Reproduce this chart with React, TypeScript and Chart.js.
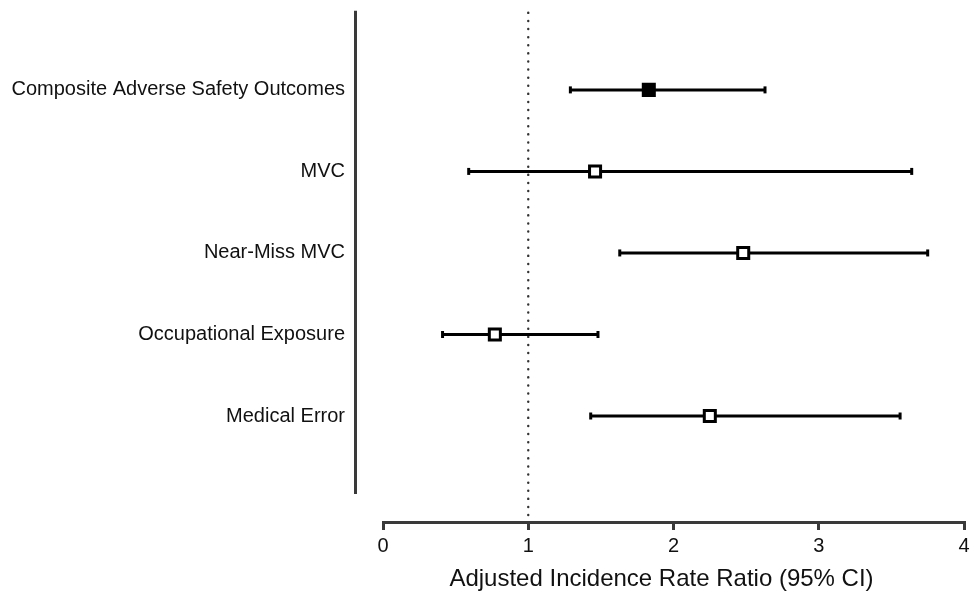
import React, { useEffect, useRef } from 'react';
import { Chart, registerables } from 'chart.js';

Chart.register(...registerables);

const outcomeLabels = [
  'Composite Adverse Safety Outcomes',
  'MVC',
  'Near-Miss MVC',
  'Occupational Exposure',
  'Medical Error',
];
const rowPositions = [1, 2, 3, 4, 5];
const irrValues = [1.83, 1.46, 2.48, 0.77, 2.25];
const lowerCI = [1.29, 0.59, 1.63, 0.41, 1.43];
const upperCI = [2.63, 3.64, 3.75, 1.48, 3.56];
const filledMarker = [true, false, false, false, false];
const xTickValues = [0, 1, 2, 3, 4];
const referenceValue = 1;
const axisTitle = 'Adjusted Incidence Rate Ratio (95% CI)';

const FONT = "'Liberation Sans', Arial, Helvetica, sans-serif";
const AXIS_COLOR = '#3a3a3a';
const TEXT_COLOR = '#111111';

const extrasPlugin = {
  id: 'forestExtras',
  beforeDatasetsDraw(chart: any) {
    const { ctx, chartArea, scales } = chart;
    const xRef = scales.x.getPixelForValue(referenceValue);
    ctx.save();
    // dotted reference line
    ctx.strokeStyle = '#333';
    ctx.lineWidth = 2.4;
    ctx.lineCap = 'round';
    ctx.setLineDash([0.1, 8]);
    ctx.beginPath();
    ctx.moveTo(xRef, chartArea.top + 2);
    ctx.lineTo(xRef, chartArea.bottom - 7);
    ctx.stroke();
    // detached vertical axis line
    ctx.setLineDash([]);
    ctx.lineCap = 'butt';
    ctx.lineWidth = 3;
    ctx.strokeStyle = AXIS_COLOR;
    const vx = chartArea.left - 27.5;
    ctx.beginPath();
    ctx.moveTo(vx, chartArea.top);
    ctx.lineTo(vx, chartArea.bottom - 28);
    ctx.stroke();
    ctx.restore();
  },
  afterDraw(chart: any) {
    const { ctx, chartArea } = chart;
    ctx.save();
    ctx.font = `24px ${FONT}`;
    ctx.fillStyle = TEXT_COLOR;
    ctx.textAlign = 'center';
    ctx.textBaseline = 'middle';
    ctx.fillText(axisTitle, (chartArea.left + chartArea.right) / 2 - 12, chartArea.bottom + 57);
    ctx.restore();
  },
};

export default function App() {
  const canvasRef = useRef<HTMLCanvasElement | null>(null);

  useEffect(() => {
    const canvas = canvasRef.current;
    if (!canvas) return;

    const ciDatasets = rowPositions.map((row, i) => ({
      type: 'line' as const,
      data: [
        { x: lowerCI[i], y: row },
        { x: upperCI[i], y: row },
      ],
      borderColor: '#000',
      borderWidth: 3,
      pointStyle: 'line',
      pointRotation: 90,
      pointRadius: 3.5,
      pointBorderWidth: 3,
      pointBorderColor: '#000',
      pointBackgroundColor: '#000',
      pointHoverRadius: 3.5,
      order: 1,
      clip: false,
    }));

    const markerDataset = {
      type: 'scatter' as const,
      data: irrValues.map((v, i) => ({ x: v, y: rowPositions[i] })),
      pointStyle: 'rect',
      pointRadius: 7.8,
      pointHoverRadius: 7.8,
      borderWidth: 3,
      borderColor: '#000',
      backgroundColor: filledMarker.map((f) => (f ? '#000' : '#fff')),
      order: 0,
      clip: false,
    };

    const chart = new Chart(canvas, {
      type: 'scatter',
      data: { datasets: [...ciDatasets, markerDataset] as any },
      options: {
        animation: false,
        responsive: false,
        devicePixelRatio: 1,
        layout: { padding: { top: 8, right: 13, left: 0, bottom: 0 } },
        plugins: {
          legend: { display: false },
          tooltip: { enabled: false },
        },
        scales: {
          x: {
            type: 'linear',
            min: 0,
            max: 4,
            afterBuildTicks: (scale: any) => {
              scale.ticks = xTickValues.map((v) => ({ value: v }));
            },
            afterFit: (scale: any) => {
              scale.height = 77;
            },
            ticks: {
              font: { family: FONT, size: 20 },
              color: TEXT_COLOR,
              padding: 4,
              maxRotation: 0,
            },
            grid: {
              drawOnChartArea: false,
              drawTicks: true,
              tickLength: 8,
              color: AXIS_COLOR,
              lineWidth: 3,
            },
            border: { display: true, color: AXIS_COLOR, width: 3 },
            title: { display: false },
          },
          y: {
            type: 'linear',
            reverse: true,
            min: 0.03,
            max: 6.3,
            afterBuildTicks: (scale: any) => {
              scale.ticks = rowPositions.map((v) => ({ value: v }));
            },
            afterFit: (scale: any) => {
              scale.width = 383;
              scale.paddingTop = 0;
              scale.paddingBottom = 0;
            },
            ticks: {
              font: { family: FONT, size: 20 },
              color: TEXT_COLOR,
              padding: 0,
              callback: (value: any) => {
                const idx = rowPositions.indexOf(Number(value));
                return idx >= 0 ? outcomeLabels[idx] : '';
              },
            },
            grid: { display: false, drawTicks: true, tickLength: 38 },
            border: { display: false },
          },
        },
      },
      plugins: [extrasPlugin],
    });

    return () => chart.destroy();
  }, []);

  return (
    <div style={{ position: 'fixed', left: 0, top: 0, width: 977, height: 599, background: '#fff' }}>
      <canvas ref={canvasRef} width={977} height={599} style={{ display: 'block' }} />
    </div>
  );
}
